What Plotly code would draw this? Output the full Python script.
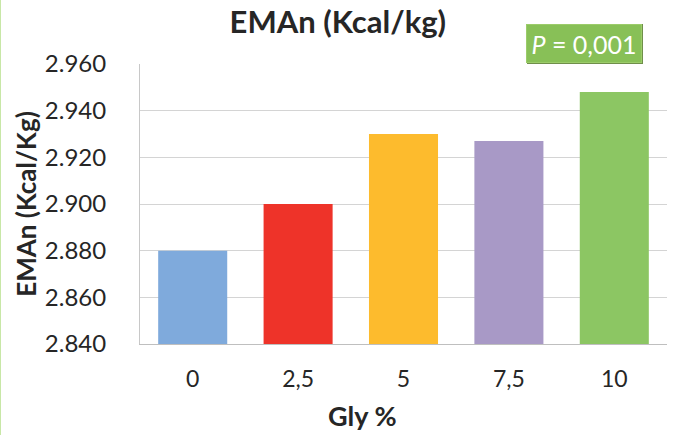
import plotly.graph_objects as go

# Apparent metabolizable energy by glycerol inclusion level
categories = ["0", "2,5", "5", "7,5", "10"]
eman_values = [2880, 2900, 2930, 2927, 2948]
bar_colors = ["#7faadc", "#ee3329", "#fdbb2d", "#a899c6", "#8cc663"]
y_ticks = [2840, 2860, 2880, 2900, 2920, 2940, 2960]

FONT = "Lato, 'Open Sans', sans-serif"
TEXT = "#262626"

fig = go.Figure(
    go.Bar(
        x=categories,
        y=eman_values,
        marker=dict(color=bar_colors, line=dict(width=0)),
        width=0.655,
        hoverinfo="x+y",
    )
)

fig.update_layout(
    width=673,
    height=435,
    margin=dict(l=140, r=6, t=64, b=91),
    paper_bgcolor="white",
    plot_bgcolor="white",
    separators=",.",
    showlegend=False,
    font=dict(family=FONT, color=TEXT),
    title=dict(
        text="<b>EMAn (Kcal/kg)</b>",
        x=0.502,
        xanchor="center",
        y=0.95,
        yanchor="middle",
        font=dict(size=31, family=FONT, color=TEXT),
    ),
    xaxis=dict(
        showgrid=False,
        showline=True,
        linecolor="#bfbfbf",
        linewidth=1,
        ticks="",
        tickfont=dict(size=23, family=FONT, color=TEXT),
        ticklabelstandoff=14,
    ),
    yaxis=dict(
        range=[2840, 2960],
        tickvals=y_ticks,
        tickformat=",d",
        showgrid=True,
        gridcolor="#d4d4d4",
        gridwidth=1,
        showline=True,
        linecolor="#c8c8c8",
        linewidth=1,
        zeroline=False,
        ticks="",
        ticklabelstandoff=28,
        tickfont=dict(size=24, family=FONT, color=TEXT),
        title=dict(text="<b>EMAn (Kcal/Kg)</b>", font=dict(size=26, family=FONT, color=TEXT), standoff=0),
    ),
)

# X-axis title, set slightly left of the plot centre
fig.add_annotation(
    xref="paper", yref="paper",
    x=(362 - 140) / 527, y=-(415 - 344) / 280,
    xanchor="center", yanchor="middle",
    text="<b>Gly %</b>",
    showarrow=False,
    font=dict(size=27, family=FONT, color=TEXT),
)

# Green accent line at the left edge of the figure
fig.add_shape(
    type="line",
    xref="paper", yref="paper",
    x0=-140.5 / 527, x1=-140.5 / 527,
    y0=-91 / 280, y1=(280 + 64) / 280,
    line=dict(color="#92d050", width=2),
)

# Significance label box with a soft shadow
fig.add_shape(
    type="rect",
    xref="paper", yref="paper",
    x0=(527 - 140) / 527, x1=(643 - 140) / 527,
    y0=(344 - 64) / 280, y1=(344 - 24) / 280,
    fillcolor="#6f8f4a", line=dict(width=0), layer="above",
)
fig.add_annotation(
    xref="paper", yref="paper",
    x=(584 - 140) / 527, y=(344 - 43) / 280,
    xanchor="center", yanchor="middle",
    text="<i>P</i> = 0,001",
    showarrow=False,
    font=dict(size=25, family=FONT, color="white"),
    bgcolor="#88c057",
    bordercolor="#9ccc6a",
    borderwidth=1,
    borderpad=2,
    width=110,
    height=33,
)

fig.write_html("out.html")
